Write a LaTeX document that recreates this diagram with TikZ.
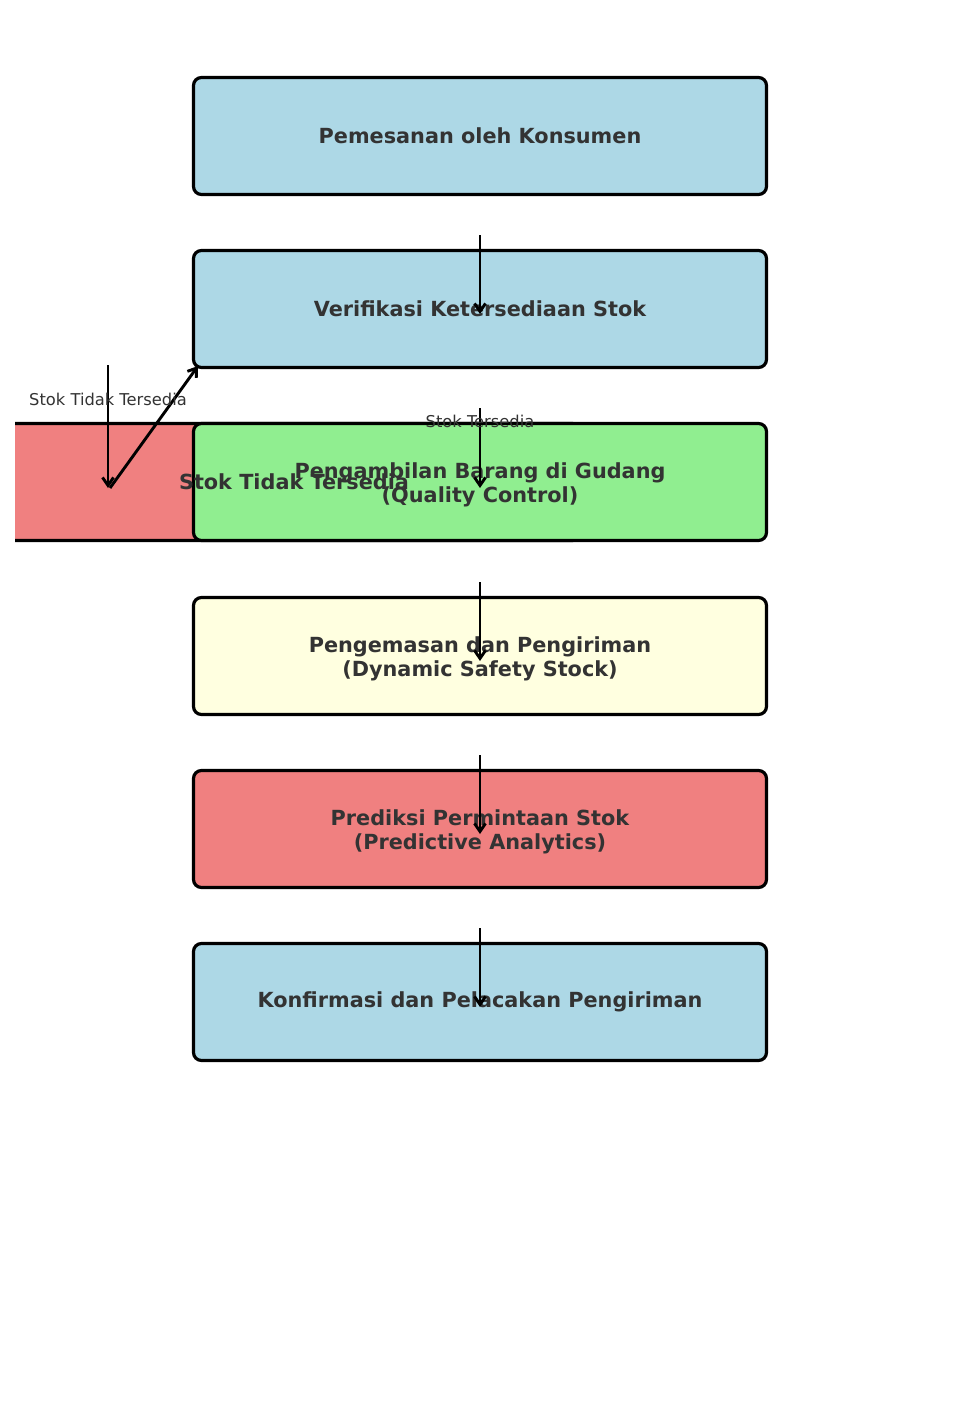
\documentclass[tikz,border=0pt]{standalone}
\usepackage{fontspec}
\setmainfont{DejaVu Sans}
\usetikzlibrary{arrows.meta,calc}
\definecolor{txt}{HTML}{333333}
\definecolor{cblue}{HTML}{ADD8E6}
\definecolor{cgreen}{HTML}{90EE90}
\definecolor{cyellow}{HTML}{FFFFE0}
\definecolor{cred}{HTML}{F08080}
\newcommand{\lift}{\rule{0pt}{21.8pt}}
\begin{document}
\begin{tikzpicture}[x=1pt,y=-1pt,
  boxtext/.style={text=txt, align=center, inner sep=0pt, font=\bfseries\fontsize{20.8}{24.3}\selectfont},
  box/.style={boxtext, draw=black, line width=3.2pt, rounded corners=8pt, minimum width=573pt, minimum height=117pt},
  arr/.style={line width=2.9pt, -{Straight Barb[length=8pt,width=11pt,line width=2.9pt]}},
  lbl/.style={text=txt, font=\fontsize{16.3}{19.5}\selectfont, inner sep=0pt}]
\useasboundingbox (0,0) rectangle (959,1416);
\fill[white] (0,0) rectangle (959,1416);
% red box, clipped at the left edge of the plot
\begin{scope}
  \clip (15,0) rectangle (959,1416);
  \node[box, fill=cred] (nt) at (294,482) {};
\end{scope}
\node[box, fill=cblue] (n1) at (480,136) {Pemesanan oleh Konsumen};
\node[box, fill=cblue] (n2) at (480,309) {Verifikasi Ketersediaan Stok};
\node[box, fill=cgreen] (n3) at (480,482) {\lift Pengambilan Barang di Gudang\\(Quality Control)};
\node[box, fill=cyellow] (n4) at (480,656) {\lift Pengemasan dan Pengiriman\\(Dynamic Safety Stock)};
\node[box, fill=cred] (n5) at (480,829) {\lift Prediksi Permintaan Stok\\(Predictive Analytics)};
\node[box, fill=cblue] (n6) at (480,1002) {Konfirmasi dan Pelacakan Pengiriman};
\node[boxtext] (ntl) at (nt.center) {Stok Tidak Tersedia};
% connector end points
\coordinate (c1s) at (480,235); \coordinate (c1e) at (480,314);
\coordinate (c2s) at (480,408); \coordinate (c2e) at (480,488);
\coordinate (c3s) at (480,582); \coordinate (c3e) at (480,661);
\coordinate (c4s) at (480,755); \coordinate (c4e) at (480,834);
\coordinate (c5s) at (480,928); \coordinate (c5e) at (480,1007);
\coordinate (d1s) at (108,365); \coordinate (d1e) at (108,488);
\coordinate (d2s) at (110,488); \coordinate (d2e) at (198,366);
\draw[arr] (c1s) -- (c1e);
\draw[arr] (c2s) -- (c2e);
\draw[arr] (c3s) -- (c3e);
\draw[arr] (c4s) -- (c4e);
\draw[arr] (c5s) -- (c5e);
\draw[arr] (d1s) -- (d1e);
\draw[arr] (d2s) -- (d2e);
\node[lbl] (l1) at (108,399) {Stok Tidak Tersedia};
\node[lbl] (l2) at (480,421) {Stok Tersedia};
\end{tikzpicture}
\end{document}
